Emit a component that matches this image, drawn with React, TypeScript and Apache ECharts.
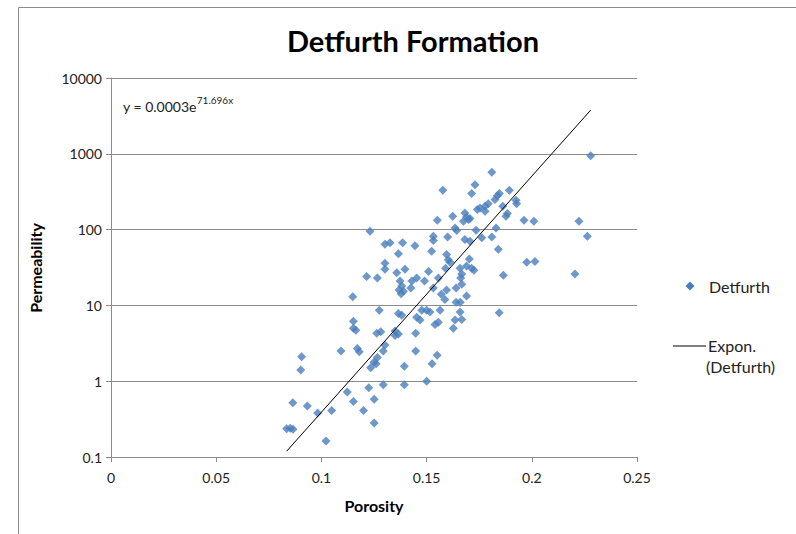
import React, { useEffect, useRef } from "react";
import * as echarts from "echarts";

// Porosity (x) and permeability (y)
const porosity = [
  0.0906, 0.0902, 0.1093, 0.1171, 0.118, 0.1263, 0.1282, 0.135, 0.1366, 0.1448,
  0.1302, 0.1294, 0.1266, 0.125, 0.126, 0.1234, 0.1394, 0.1448, 0.1123, 0.1225,
  0.1294, 0.1394, 0.0864, 0.0933, 0.0982, 0.1049, 0.1152, 0.12, 0.1251, 0.1251,
  0.0835, 0.0852, 0.0865, 0.1022, 0.135,
  0.1231, 0.1215, 0.1266, 0.1149, 0.1275, 0.1152, 0.1152, 0.1164, 0.1302, 0.1326,
  0.1302, 0.1302, 0.1386, 0.1445, 0.1532, 0.1532, 0.16, 0.1524, 0.1366, 0.1595,
  0.1603, 0.1611, 0.159, 0.1659, 0.1667, 0.1509, 0.1358, 0.1397, 0.1453, 0.1374,
  0.1382, 0.1369, 0.139, 0.1379, 0.143, 0.1425, 0.149, 0.1532, 0.1556, 0.1595,
  0.157, 0.164, 0.164, 0.1587, 0.1366, 0.1382, 0.1477, 0.15, 0.1516, 0.1453,
  0.1469, 0.1564, 0.154, 0.1556, 0.1627, 0.1635,
  0.181, 0.1577, 0.173, 0.1714, 0.1893, 0.1846, 0.1836, 0.1825, 0.1925, 0.1928,
  0.1793, 0.1778, 0.1754, 0.1778, 0.1741, 0.1862, 0.1877, 0.1884, 0.1963, 0.201,
  0.1551, 0.1624, 0.1682, 0.169, 0.1675, 0.1699, 0.1706, 0.1635, 0.1643, 0.181,
  0.1762, 0.183, 0.1735, 0.1682, 0.1706, 0.1841, 0.1703, 0.169, 0.1714, 0.1725,
  0.1662, 0.1865, 0.1976, 0.2015, 0.1845, 0.1667, 0.169, 0.166, 0.1659, 0.1667,
  0.228, 0.2224, 0.2264, 0.2205,
  0.155, 0.1526, 0.15,
];

const permeability = [
  2.1, 1.4, 2.5, 2.7, 2.45, 4.3, 4.5, 4.0, 4.2, 4.3,
  3.0, 2.5, 2.05, 1.78, 1.7, 1.5, 1.58, 2.5, 0.72, 0.82,
  0.9, 0.9, 0.52, 0.47, 0.38, 0.41, 0.54, 0.41, 0.58, 0.28,
  0.235, 0.24, 0.232, 0.163, 4.6,
  95, 24, 23, 13, 8.6, 6.2, 5.0, 4.7, 64, 67,
  36, 30, 67, 61, 82, 72, 80, 52, 48, 47,
  40, 37, 31, 31, 26, 28, 27, 30, 23, 21,
  18, 16, 15.4, 14.3, 21, 17, 21, 17, 23, 16,
  14, 17, 11, 12, 7.8, 7.4, 8.6, 8.6, 8.2, 7.0,
  6.4, 8.6, 5.6, 6.0, 5.0, 6.4,
  570, 330, 390, 300, 330, 300, 280, 250, 244, 220,
  220, 203, 193, 174, 184, 203, 150, 163, 133, 129,
  133, 150, 166, 147, 129, 136, 140, 105, 97, 80,
  78, 105, 98, 74, 70, 55, 41, 33, 31, 29,
  23, 25, 37, 38, 8.0, 19, 13.3, 11, 8.2, 6.5,
  940, 129, 82, 26,
  2.2, 1.7, 1.0,
];

// Exponential trend line shown on the chart: y = 0.0003 e^(71.696x)
const trendCoefA = 0.0003;
const trendCoefB = 71.696;

const seriesName = "Detfurth";
const trendName = "Expon. (Detfurth)";

const FONT = "Lato, 'Liberation Sans', sans-serif";

export default function App() {
  const ref = useRef<HTMLDivElement>(null);

  useEffect(() => {
    if (!ref.current) return;
    const chart = echarts.init(ref.current, undefined, { renderer: "svg" });

    const points = porosity.map((x, i) => [x, permeability[i]]);
    const xMin = Math.min(...porosity);
    const xMax = Math.max(...porosity);
    const trend = [
      [xMin, trendCoefA * Math.exp(trendCoefB * xMin)],
      [xMax, trendCoefA * Math.exp(trendCoefB * xMax)],
    ];

    chart.setOption({
      animation: false,
      backgroundColor: "#ffffff",
      textStyle: { fontFamily: FONT },
      grid: { left: 111, right: 159, top: 78, bottom: 77, containLabel: false },
      xAxis: {
        type: "value",
        min: 0,
        max: 0.25,
        interval: 0.05,
        splitLine: { show: false },
        axisLine: { show: true, lineStyle: { color: "#8c8c8c", width: 1 } },
        axisTick: { show: true, inside: false, length: 5, lineStyle: { color: "#8c8c8c" } },
        axisLabel: { color: "#222", fontSize: 14, margin: 13, fontFamily: FONT },
      },
      yAxis: {
        type: "log",
        logBase: 10,
        min: 0.1,
        max: 10000,
        splitLine: { show: true, lineStyle: { color: "#8c8c8c", width: 1 } },
        axisLine: { show: true, lineStyle: { color: "#8c8c8c", width: 1 } },
        axisTick: { show: true, inside: false, length: 5, lineStyle: { color: "#8c8c8c" } },
        minorTick: { show: false },
        axisLabel: {
          color: "#222",
          fontSize: 14,
          margin: 9,
          fontFamily: FONT,
          formatter: (v: number) => String(Number(v.toPrecision(6))),
        },
      },
      series: [
        {
          name: seriesName,
          type: "scatter",
          data: points,
          symbol: "diamond",
          symbolSize: 9,
          itemStyle: { color: "#4a7ebb" },
          z: 3,
        },
        {
          name: trendName,
          type: "line",
          data: trend,
          symbol: "none",
          lineStyle: { color: "#000000", width: 1 },
          z: 4,
        },
      ],
      graphic: [
        {
          type: "rect",
          silent: true,
          shape: { x: 18.5, y: 7.5, width: 900, height: 700 },
          style: { fill: "none", stroke: "#8c8c8c", lineWidth: 1 },
        },
        {
          type: "text",
          style: {
            x: 413,
            y: 40,
            text: "Detfurth Formation",
            font: `bold 29px ${FONT}`,
            fill: "#000",
            align: "center",
            verticalAlign: "middle",
          },
        },
        {
          type: "text",
          style: {
            x: 123,
            y: 104,
            text: "{b|y = 0.0003e}{s|71.696x}",
            verticalAlign: "middle",
            rich: {
              b: { fontSize: 14, fontFamily: FONT, fill: "#222", verticalAlign: "bottom" },
              s: { fontSize: 10, fontFamily: FONT, fill: "#222", verticalAlign: "top", padding: [0, 0, 8, 0] },
            },
          },
        },
        {
          type: "text",
          rotation: Math.PI / 2,
          x: 35,
          y: 268,
          style: {
            text: "Permeability",
            font: `bold 16px ${FONT}`,
            fill: "#000",
            align: "center",
            verticalAlign: "middle",
          },
        },
        {
          type: "text",
          style: {
            x: 374,
            y: 505,
            text: "Porosity",
            font: `bold 16px ${FONT}`,
            fill: "#000",
            align: "center",
            verticalAlign: "middle",
          },
        },
        {
          type: "polygon",
          shape: { points: [[690, 281.5], [694.5, 286], [690, 290.5], [685.5, 286]] },
          style: { fill: "#4a7ebb" },
        },
        {
          type: "text",
          style: {
            x: 709,
            y: 286,
            text: seriesName,
            font: `16px ${FONT}`,
            fill: "#222",
            verticalAlign: "middle",
          },
        },
        {
          type: "line",
          shape: { x1: 673, y1: 346, x2: 706, y2: 346 },
          style: { stroke: "#000", lineWidth: 1 },
        },
        {
          type: "text",
          style: {
            x: 708,
            y: 345,
            text: "Expon.",
            font: `16px ${FONT}`,
            fill: "#222",
            verticalAlign: "middle",
          },
        },
        {
          type: "text",
          style: {
            x: 706,
            y: 366,
            text: "(Detfurth)",
            font: `16px ${FONT}`,
            fill: "#222",
            verticalAlign: "middle",
          },
        },
      ],
    });

    return () => chart.dispose();
  }, []);

  return (
    <div
      ref={ref}
      style={{ position: "fixed", left: 0, top: 0, width: 796, height: 534, background: "#fff" }}
    />
  );
}
